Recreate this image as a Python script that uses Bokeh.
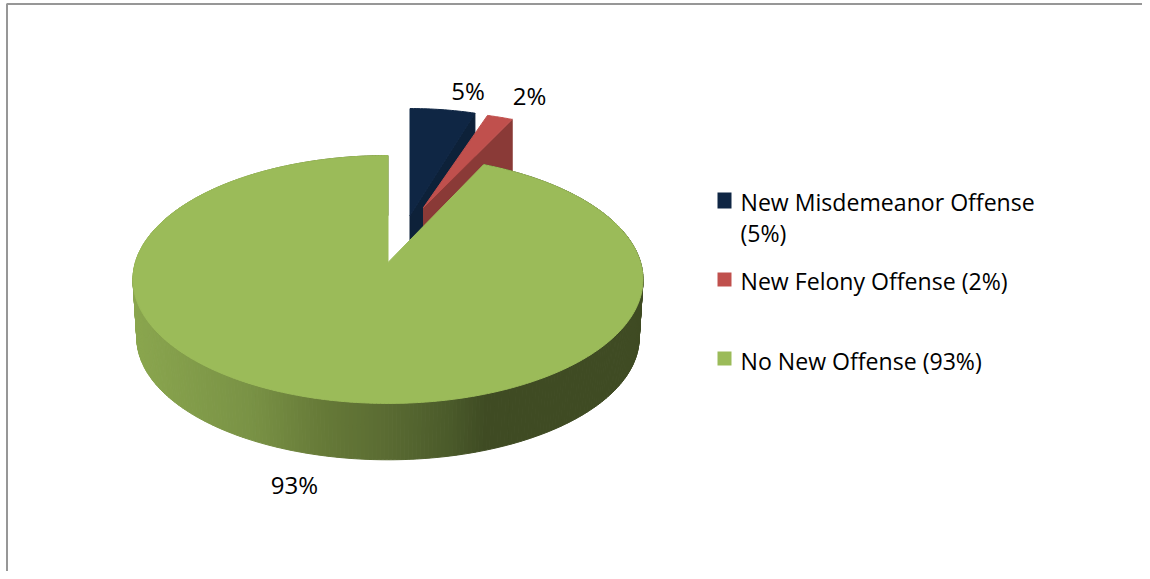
import numpy as np
from bokeh.plotting import figure
from bokeh.core.properties import value
from bokeh.embed import file_html
from bokeh.resources import INLINE

categories = ["New Misdemeanor Offense", "New Felony Offense", "No New Offense"]
percents = [5, 2, 93]
slice_labels = ["5%", "2%", "93%"]
legend_lines = ["New Misdemeanor Offense", "(5%)", "New Felony Offense (2%)", "No New Offense (93%)"]
top_colors = ["#0f2644", "#c0504d", "#9bbb59"]
wall_colors = ["#0d2139", "#8a3a37", "#3f4b23"]
wall_stops_x = [131, 250, 320, 388, 450, 485, 645]
wall_stops_rgb = [(0x8a, 0xa6, 0x4e), (0x79, 0x92, 0x45), (0x66, 0x7a, 0x38),
                  (0x5a, 0x6b, 0x32), (0x4a, 0x5a, 0x2a), (0x3f, 0x4b, 0x23), (0x3f, 0x4b, 0x23)]

W, H = 1142, 571
FONT = "Open Sans"

p = figure(width=W, height=H, x_range=(0, W), y_range=(H, 0), toolbar_location=None,
           output_backend="svg", min_border=0)
p.axis.visible = False
p.grid.visible = False
p.outline_line_color = None
p.background_fill_color = "white"
p.border_fill_color = "white"

# Chart-area border (top and left only are visible in the reference)
p.multi_line([[6.5, 6.5, 1150]], [[579, 3.5, 3.5]], line_color="#979797", line_width=2)

K = 0.137
A = 252.6
B = 121.6


def project(deg, cx, cy, scale=1.0, xscale=1.0):
    t = np.radians(deg)
    u, v = np.sin(t), np.cos(t)
    w = 1 + K * v
    return cx + xscale * scale * A * u / w, cy - scale * B * v / w


cum = np.concatenate([[0], np.cumsum(percents)]) * 3.6
DEPTH = 55

# Exploded slices: apex position, radial scale
slices = [(409.5, 215, 1.0, 0.94), (423, 207, 0.9, 1.03)]
for i, (ax, ay, sc, xs) in enumerate(slices):
    th = np.linspace(cum[i], cum[i + 1], 20)
    rx, ry = project(th, ax, ay, sc, xs)
    # cut-face wall toward the viewer
    p.patch([ax, rx[-1], rx[-1], ax], [ay, ry[-1], ry[-1] + DEPTH, ay + DEPTH],
            fill_color=wall_colors[i], line_color=wall_colors[i], line_width=1)
    p.patch(np.r_[ax, rx], np.r_[ay, ry], fill_color=top_colors[i],
            line_color=top_colors[i], line_width=1)

# Large slice
cx, cy = 387.5, 262
th_big = np.linspace(cum[2], cum[3], 421)
tx, ty = project(th_big, cx, cy)
bx, by = project(th_big, cx, 320.5, 0.985)

xs_wall, ys_wall, cols = [], [], []
for j in range(len(th_big) - 1):
    xm = 0.5 * (tx[j] + tx[j + 1])
    rgb = [int(round(np.interp(xm, wall_stops_x, [c[k] for c in wall_stops_rgb]))) for k in range(3)]
    cols.append("#%02x%02x%02x" % tuple(rgb))
    xs_wall.append([tx[j], tx[j + 1], bx[j + 1], bx[j]])
    ys_wall.append([ty[j], ty[j + 1], by[j + 1], by[j]])
p.patches(xs_wall, ys_wall, fill_color=cols, line_color=cols, line_width=1)

p.patch(np.r_[cx, tx], np.r_[cy, ty], fill_color=top_colors[2], line_color=top_colors[2], line_width=1)

# Data labels
p.text([467.5, 529, 294], [90, 95, 484], text=slice_labels, text_font=value(FONT),
       text_font_size="24px", text_color="#000000", text_align="center", text_baseline="middle")

# Legend
p.quad(left=[717, 717, 717], right=[731, 731, 731], top=[192, 272, 351], bottom=[208, 286, 365],
       fill_color=top_colors, line_color=None)
p.text([740, 740, 740, 740], [201, 232, 280, 360], text=legend_lines, text_font=value(FONT),
       text_font_size="23.1px", text_color="#000000", text_align="left", text_baseline="middle")

open("out.html", "w").write(file_html(p, INLINE))
